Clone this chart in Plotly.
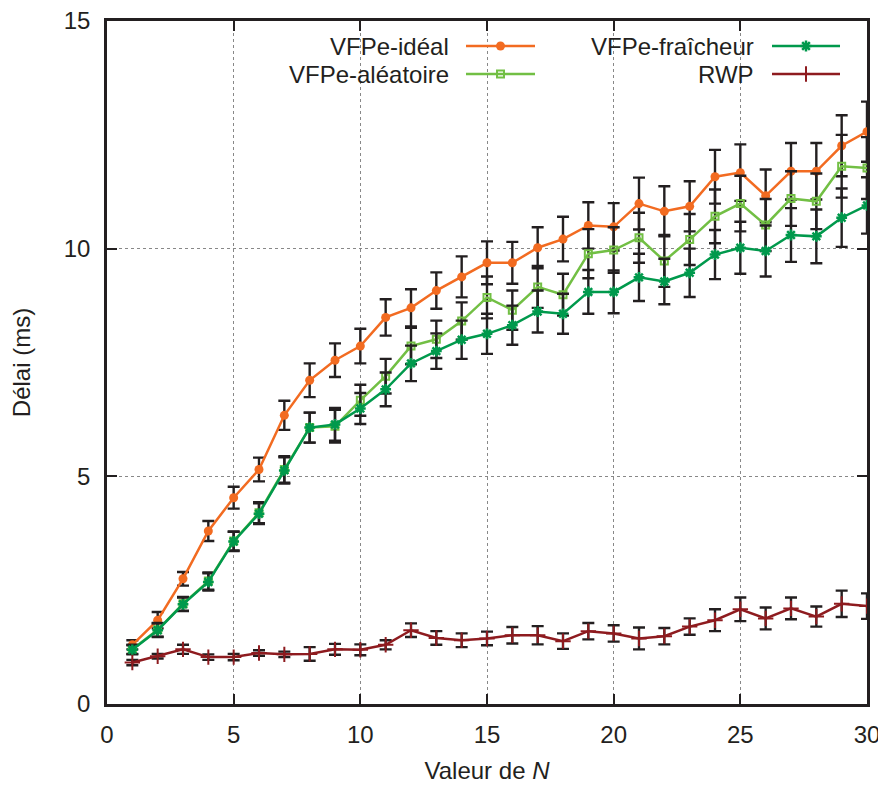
import plotly.graph_objects as go

N = list(range(1, 31))

ideal = [1.30, 1.84, 2.75, 3.80, 4.53, 5.15, 6.34, 7.11, 7.55, 7.86,
         8.49, 8.70, 9.08, 9.38, 9.69, 9.69, 10.02, 10.21, 10.51, 10.48,
         10.99, 10.82, 10.93, 11.58, 11.67, 11.16, 11.70, 11.70, 12.26, 12.57]
ideal_err = [0.10, 0.18, 0.15, 0.22, 0.24, 0.26, 0.32, 0.37, 0.37, 0.38,
             0.40, 0.41, 0.40, 0.45, 0.47, 0.46, 0.45, 0.49, 0.51, 0.52,
             0.57, 0.55, 0.55, 0.59, 0.62, 0.58, 0.62, 0.62, 0.67, 0.66]

aleatoire = [1.20, 1.63, 2.20, 2.70, 3.58, 4.20, 5.15, 6.07, 6.10, 6.67,
             7.20, 7.86, 8.01, 8.41, 8.93, 8.65, 9.16, 8.99, 9.89, 9.97,
             10.24, 9.73, 10.20, 10.71, 10.99, 10.52, 11.10, 11.04, 11.81, 11.77]
aleatoire_err = [0.10, 0.15, 0.15, 0.19, 0.21, 0.23, 0.29, 0.33, 0.36, 0.34,
                 0.38, 0.40, 0.41, 0.41, 0.46, 0.43, 0.46, 0.46, 0.54, 0.50,
                 0.55, 0.57, 0.56, 0.59, 0.61, 0.57, 0.60, 0.61, 0.69, 0.68]

fraicheur = [1.19, 1.62, 2.19, 2.68, 3.57, 4.18, 5.13, 6.07, 6.14, 6.49,
             6.91, 7.48, 7.75, 8.00, 8.13, 8.32, 8.62, 8.57, 9.05, 9.05,
             9.37, 9.28, 9.47, 9.87, 10.02, 9.95, 10.30, 10.27, 10.68, 10.95]
fraicheur_err = [0.10, 0.15, 0.15, 0.19, 0.21, 0.23, 0.29, 0.33, 0.36, 0.34,
                 0.37, 0.39, 0.39, 0.42, 0.44, 0.43, 0.46, 0.44, 0.48, 0.47,
                 0.52, 0.50, 0.53, 0.54, 0.57, 0.56, 0.59, 0.59, 0.64, 0.62]

rwp = [0.91, 1.05, 1.20, 1.03, 1.03, 1.12, 1.09, 1.10, 1.20, 1.19,
       1.30, 1.62, 1.45, 1.40, 1.44, 1.51, 1.51, 1.38, 1.60, 1.55,
       1.44, 1.49, 1.70, 1.84, 2.08, 1.88, 2.10, 1.92, 2.20, 2.15]
rwp_err = [0.06, 0.05, 0.10, 0.06, 0.07, 0.06, 0.06, 0.15, 0.12, 0.12,
           0.10, 0.15, 0.15, 0.15, 0.15, 0.18, 0.20, 0.17, 0.18, 0.18,
           0.24, 0.18, 0.18, 0.24, 0.26, 0.24, 0.24, 0.22, 0.29, 0.28]

series_names = ["VFPe-idéal", "VFPe-aléatoire", "VFPe-fraîcheur", "RWP"]
x_ticks = [0, 5, 10, 15, 20, 25, 30]
y_ticks = [0, 5, 10, 15]

FONT = "Liberation Sans, Arial, sans-serif"
TXT = "#231F20"
ERR_COLOR = "#231F20"
FS = 24

styles = [
    dict(color="#F26B21", symbol="circle", size=9, lw=0),
    dict(color="#72BF44", symbol="square-open", size=7, lw=2),
    dict(color="#00994C", symbol="asterisk-open", size=9, lw=2.5),
    dict(color="#8E1B1F", symbol="cross-thin-open", size=11, lw=2),
]
values = [ideal, aleatoire, fraicheur, rwp]
errors = [ideal_err, aleatoire_err, fraicheur_err, rwp_err]

fig = go.Figure()
for name, ys, es, st in zip(series_names, values, errors, styles):
    fig.add_trace(go.Scatter(
        x=N, y=ys, name=name, mode="lines+markers",
        line=dict(color=st["color"], width=2.5),
        marker=dict(symbol=st["symbol"], size=st["size"], color=st["color"],
                    line=dict(color=st["color"], width=st["lw"])),
        error_y=dict(type="data", array=es, visible=True, color=ERR_COLOR,
                     thickness=2.4, width=6),
        showlegend=False,
    ))

# Custom legend (text right-aligned, sample on the right), on a pixel overlay axis
leg_rows = [46, 74]
leg_cols = [(451, 466, 535), (756, 772, 840)]
positions = [(0, 0), (0, 1), (1, 0), (1, 1)]
for name, st, (c, r) in zip(series_names, styles, positions):
    tx, x0, x1 = leg_cols[c]
    yy = leg_rows[r]
    fig.add_trace(go.Scatter(
        x=[x0, x1], y=[yy, yy], mode="lines", xaxis="x2", yaxis="y2",
        line=dict(color=st["color"], width=2.5), showlegend=False, hoverinfo="skip"))
    fig.add_trace(go.Scatter(
        x=[(x0 + x1) / 2], y=[yy], mode="markers", xaxis="x2", yaxis="y2",
        marker=dict(symbol=st["symbol"], size=st["size"], color=st["color"],
                    line=dict(color=st["color"], width=st["lw"])),
        showlegend=False, hoverinfo="skip"))
    fig.add_annotation(x=tx, y=yy, xref="x2", yref="y2", text=name,
                       showarrow=False, xanchor="right", yanchor="middle",
                       font=dict(family=FONT, size=FS, color=TXT))

axis_common = dict(
    showline=True, linecolor=TXT, linewidth=2.5, mirror="ticks",
    ticks="inside", ticklen=10, tickwidth=1.5, tickcolor=TXT,
    showgrid=True, gridcolor="#888888", gridwidth=1, griddash="dot",
    zeroline=False, automargin=False, ticklabeloverflow="allow",
    tickfont=dict(family=FONT, size=FS, color=TXT),
)

# The page body has an 8px margin: figure shrunk by 8px, left/top margins shifted
fig.update_layout(
    width=878, height=780,
    margin=dict(l=99, r=19, t=13, b=84),
    paper_bgcolor="white", plot_bgcolor="white",
    font=dict(family=FONT, size=FS, color=TXT),
    xaxis=dict(range=[0, 30], tickvals=x_ticks, ticklabelstandoff=7,
               title=dict(text="Valeur de <i>N</i>", standoff=16,
                          font=dict(family=FONT, size=FS)),
               **axis_common),
    yaxis=dict(range=[0, 15], tickvals=y_ticks, ticklabelstandoff=9,
               title=dict(text="Délai (ms)", standoff=28,
                          font=dict(family=FONT, size=FS)),
               **axis_common),
    xaxis2=dict(overlaying="x", range=[107, 867], visible=False, anchor="y2",
                automargin=False),
    yaxis2=dict(overlaying="y", range=[704, 21], visible=False, anchor="x2",
                automargin=False),
)

fig.write_html("out.html")
